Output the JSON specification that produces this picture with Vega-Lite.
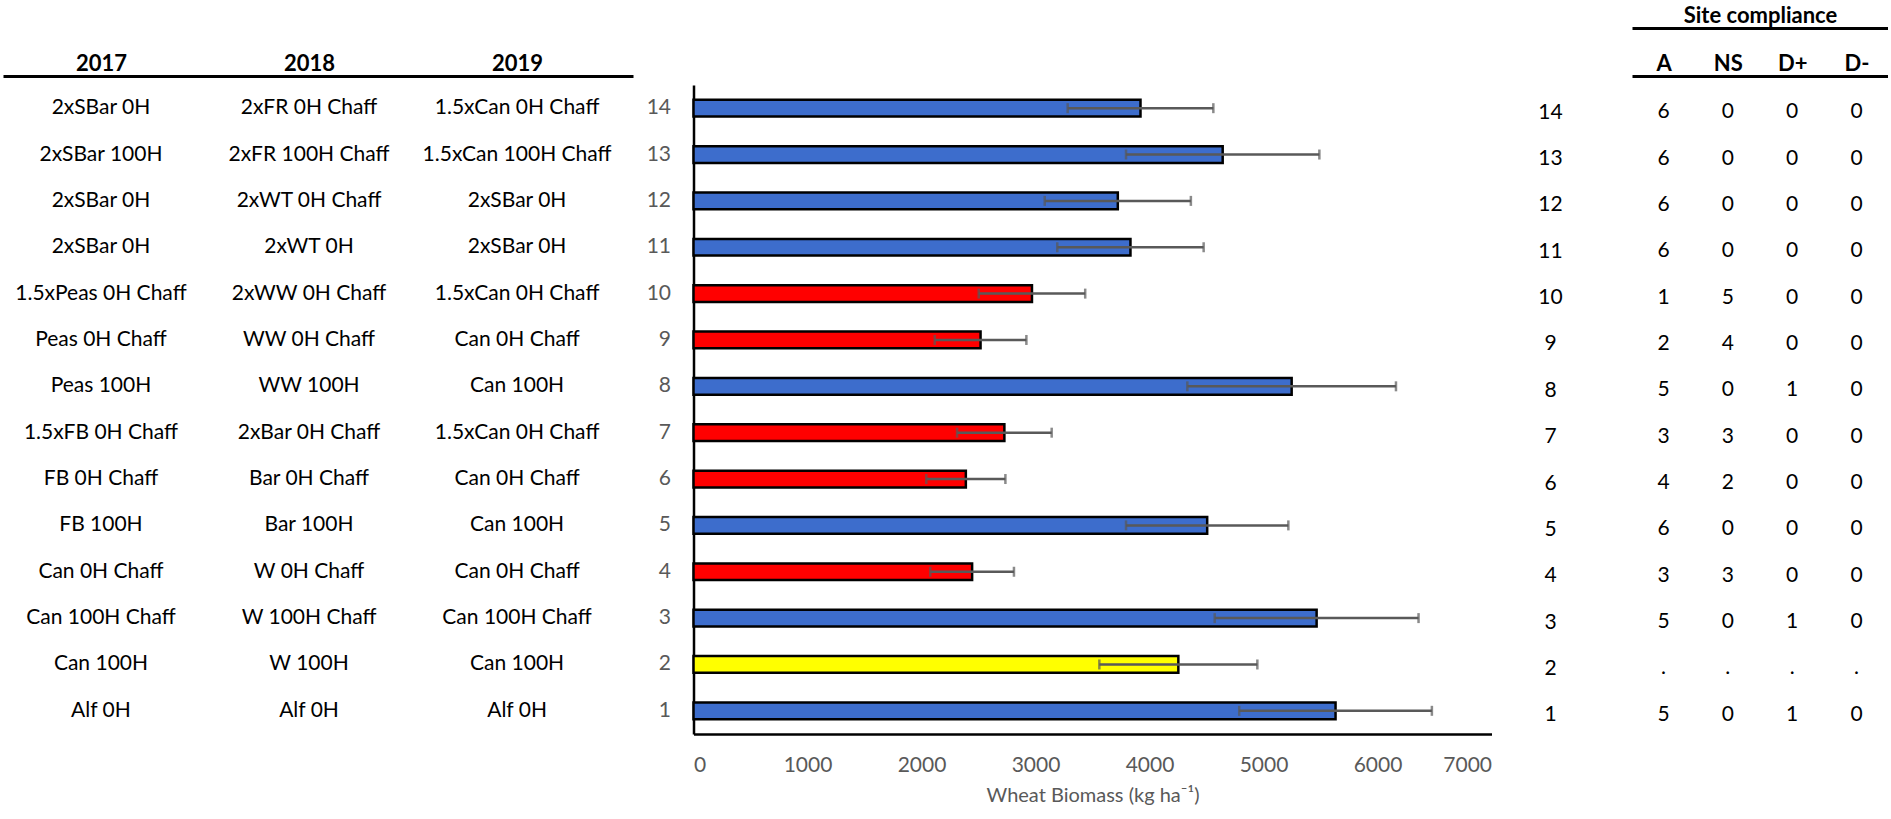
{
  "$schema": "https://vega.github.io/schema/vega-lite/v6.json",
  "description": "Wheat biomass by treatment sequence with site compliance table.",
  "background": "white",
  "padding": {"left": 3, "top": 4, "right": 0, "bottom": 0},
  "bounds": "flush",
  "spacing": 60.5,
  "datasets": {
    "trials": [
      {"trt": 14, "2017": "2xSBar 0H", "2018": "2xFR 0H Chaff", "2019": "1.5xCan 0H Chaff", "biomass": 3921, "se": 639, "status": "Compliant", "A": 6, "NS": 0, "D+": 0, "D-": 0},
      {"trt": 13, "2017": "2xSBar 100H", "2018": "2xFR 100H Chaff", "2019": "1.5xCan 100H Chaff", "biomass": 4642, "se": 848, "status": "Compliant", "A": 6, "NS": 0, "D+": 0, "D-": 0},
      {"trt": 12, "2017": "2xSBar 0H", "2018": "2xWT 0H Chaff", "2019": "2xSBar 0H", "biomass": 3722, "se": 641, "status": "Compliant", "A": 6, "NS": 0, "D+": 0, "D-": 0},
      {"trt": 11, "2017": "2xSBar 0H", "2018": "2xWT 0H", "2019": "2xSBar 0H", "biomass": 3833, "se": 642, "status": "Compliant", "A": 6, "NS": 0, "D+": 0, "D-": 0},
      {"trt": 10, "2017": "1.5xPeas 0H Chaff", "2018": "2xWW 0H Chaff", "2019": "1.5xCan 0H Chaff", "biomass": 2969, "se": 467, "status": "Non-compliant", "A": 1, "NS": 5, "D+": 0, "D-": 0},
      {"trt": 9, "2017": "Peas 0H Chaff", "2018": "WW 0H Chaff", "2019": "Can 0H Chaff", "biomass": 2518, "se": 402, "status": "Non-compliant", "A": 2, "NS": 4, "D+": 0, "D-": 0},
      {"trt": 8, "2017": "Peas 100H", "2018": "WW 100H", "2019": "Can 100H", "biomass": 5247, "se": 915, "status": "Compliant", "A": 5, "NS": 0, "D+": 1, "D-": 0},
      {"trt": 7, "2017": "1.5xFB 0H Chaff", "2018": "2xBar 0H Chaff", "2019": "1.5xCan 0H Chaff", "biomass": 2727, "se": 415, "status": "Non-compliant", "A": 3, "NS": 3, "D+": 0, "D-": 0},
      {"trt": 6, "2017": "FB 0H Chaff", "2018": "Bar 0H Chaff", "2019": "Can 0H Chaff", "biomass": 2389, "se": 347, "status": "Non-compliant", "A": 4, "NS": 2, "D+": 0, "D-": 0},
      {"trt": 5, "2017": "FB 100H", "2018": "Bar 100H", "2019": "Can 100H", "biomass": 4506, "se": 712, "status": "Compliant", "A": 6, "NS": 0, "D+": 0, "D-": 0},
      {"trt": 4, "2017": "Can 0H Chaff", "2018": "W 0H Chaff", "2019": "Can 0H Chaff", "biomass": 2444, "se": 367, "status": "Non-compliant", "A": 3, "NS": 3, "D+": 0, "D-": 0},
      {"trt": 3, "2017": "Can 100H Chaff", "2018": "W 100H Chaff", "2019": "Can 100H Chaff", "biomass": 5466, "se": 894, "status": "Compliant", "A": 5, "NS": 0, "D+": 1, "D-": 0},
      {"trt": 2, "2017": "Can 100H", "2018": "W 100H", "2019": "Can 100H", "biomass": 4253, "se": 693, "status": "Control", "A": ".", "NS": ".", "D+": ".", "D-": "."},
      {"trt": 1, "2017": "Alf 0H", "2018": "Alf 0H", "2019": "Alf 0H", "biomass": 5632, "se": 845, "status": "Compliant", "A": 5, "NS": 0, "D+": 1, "D-": 0}
    ]
  },
  "hconcat": [
    {
      "width": 630,
      "height": 649,
      "data": {"name": "trials"},
      "transform": [{"fold": ["2017", "2018", "2019"], "as": ["year", "treatment"]}],
      "mark": {"type": "text", "fontSize": 21, "color": "black"},
      "encoding": {
        "x": {
          "field": "year",
          "type": "nominal",
          "scale": {"type": "point", "padding": 0.514, "align": 0.458},
          "axis": {"orient": "top", "title": null, "offset": 9, "domainColor": "black", "domainWidth": 3, "ticks": false, "labelAngle": 0, "labelFontWeight": "bold", "labelFontSize": 22, "labelColor": "black", "labelPadding": 1}
        },
        "y": {"field": "trt", "type": "ordinal", "sort": "descending", "scale": {"paddingInner": 0.64, "paddingOuter": 0.32}, "axis": null},
        "text": {"field": "treatment"}
      }
    },
    {
      "spacing": 140.5,
      "bounds": "flush",
      "hconcat": [
        {
          "width": 798,
          "height": 649,
          "data": {"name": "trials"},
          "encoding": {
            "y": {
              "field": "trt",
              "type": "ordinal",
              "sort": "descending",
              "scale": {"paddingInner": 0.64, "paddingOuter": 0.32},
              "axis": {"title": null, "labelColor": "#595959", "labelFontSize": 21, "labelPadding": 23, "domainColor": "black", "domainWidth": 2.5, "ticks": false}
            },
            "x": {
              "field": "biomass",
              "type": "quantitative",
              "scale": {"domain": [0, 7000], "nice": false},
              "axis": {
                "title": "Wheat Biomass (kg ha⁻¹)",
                "values": [0, 1000, 2000, 3000, 4000, 5000, 6000, 7000],
                "format": "d",
                "grid": false,
                "ticks": false,
                "domainColor": "black",
                "domainWidth": 2.5,
                "labelColor": "#595959",
                "labelFontSize": 21,
                "labelPadding": 20,
                "titleColor": "#595959",
                "titleFontSize": 20,
                "titleFontWeight": "normal",
                "titlePadding": 10
              }
            }
          },
          "layer": [
            {
              "mark": {"type": "bar", "stroke": "black", "strokeWidth": 2.5},
              "encoding": {
                "color": {
                  "field": "status",
                  "type": "nominal",
                  "scale": {"domain": ["Compliant", "Non-compliant", "Control"], "range": ["#3D6DCC", "#FF0000", "#FFFF00"]},
                  "legend": null
                }
              }
            },
            {
              "mark": {"type": "errorbar", "ticks": true, "color": "#595959", "thickness": 2.5, "size": 10},
              "encoding": {"xError": {"field": "se"}}
            }
          ]
        },
        {
          "width": 256,
          "height": 649,
          "data": {"name": "trials"},
          "transform": [{"fold": ["A", "NS", "D+", "D-"], "as": ["measure", "count"]}],
          "encoding": {
            "y": {
              "field": "trt",
              "type": "ordinal",
              "sort": "descending",
              "scale": {"paddingInner": 0.64, "paddingOuter": 0.32},
              "axis": {"title": null, "domain": false, "ticks": false, "labelColor": "black", "labelFontSize": 21, "labelAlign": "center", "labelPadding": 82, "labelOffset": 4}
            }
          },
          "layer": [
            {
              "mark": {"type": "text", "fontSize": 21, "color": "black", "dy": 4},
              "encoding": {
                "x": {
                  "field": "measure",
                  "type": "nominal",
                  "sort": ["A", "NS", "D+", "D-"],
                  "scale": {"type": "point", "padding": 0.49},
                  "axis": {"orient": "top", "title": null, "offset": 9, "domainColor": "black", "domainWidth": 3, "ticks": false, "labelAngle": 0, "labelFontWeight": "bold", "labelFontSize": 22, "labelColor": "black", "labelPadding": 1}
                },
                "text": {"field": "count"}
              }
            },
            {
              "mark": {"type": "text", "opacity": 0},
              "encoding": {
                "x": {
                  "field": "measure",
                  "type": "nominal",
                  "sort": ["A", "NS", "D+", "D-"],
                  "axis": {"orient": "top", "title": "Site compliance", "labels": false, "ticks": false, "offset": 57, "domainColor": "black", "domainWidth": 3, "titleFontSize": 22, "titleFontWeight": "bold", "titleColor": "black", "titlePadding": 1}
                },
                "text": {"field": "count"}
              }
            }
          ],
          "resolve": {"axis": {"x": "independent"}}
        }
      ]
    }
  ],
  "config": {
    "font": "Lato",
    "view": {"stroke": null}
  }
}
